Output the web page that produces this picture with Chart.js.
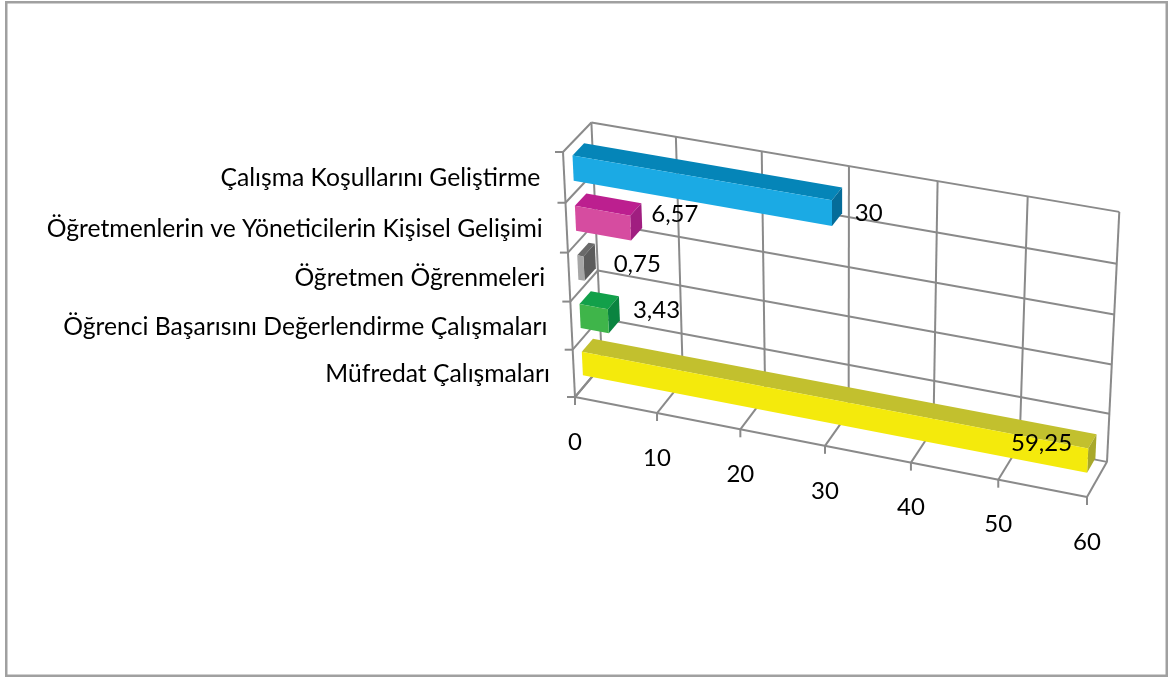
<!DOCTYPE html>
<html>
<head>
<meta charset="utf-8">
<style>
    html, body { margin: 0; padding: 0; background: #fff; }
    canvas { display: block; }
</style>
<script src="https://cdn.jsdelivr.net/npm/chart.js@4"></script>
</head>
<body>
<canvas id="myChart" width="1168" height="677"></canvas>
<script>
// Data for the chart (top to bottom)
const categories = [
    'Çalışma Koşullarını Geliştirme',
    'Öğretmenlerin ve Yöneticilerin Kişisel Gelişimi',
    'Öğretmen Öğrenmeleri',
    'Öğrenci Başarısını Değerlendirme Çalışmaları',
    'Müfredat Çalışmaları'
];
const values = [30, 6.57, 0.75, 3.43, 59.25];
const valueTicks = [0, 10, 20, 30, 40, 50, 60];

// Bar face colours
const frontColors = ['#1baae4', '#d64ca0', '#a6a6a6', '#3fb54a', '#f4ea0c'];
const topColors = ['#0585b8', '#bc1f8f', '#6a6a6a', '#12a04a', '#c2c02e'];
const sideColors = ['#056c99', '#a01e80', '#5c5c5c', '#0a8440', '#a8a82a'];

// Data labels were moved by hand in the original, offsets from the bar end
const labelNudge = [[32, 6], [39, -8], [48, 1], [43, -5], [-50, -11]];

const FONT = '24px Lato';
const CATEGORY_FONT = '24.7px Lato';
const GRID = '#8a8a8a';

// The 3D box: where the corners of the plot end up on screen
const O = { x: 575, y: 397 };   // value 0, bottom, front
const PU = { x: 1087, y: 497 }; // value max, bottom, front
const PV = { x: 563, y: 152 };  // value 0, top, front
const PW = { x: 602, y: 365 };  // value 0, bottom, back
const AU = 0.954, AV = 0.957, AW = 1.0157; // perspective weights
const BAR_FRONT = 0.31, BAR_BACK = 0.72;   // bar position in the depth of the box

// u = along values, v = bottom to top, w = front to back, all 0..1
function project(u, v, w) {
    const d = 1 + u * (AU - 1) + v * (AV - 1) + w * (AW - 1);
    return {
        x: (O.x + u * (AU * PU.x - O.x) + v * (AV * PV.x - O.x) + w * (AW * PW.x - O.x)) / d,
        y: (O.y + u * (AU * PU.y - O.y) + v * (AV * PV.y - O.y) + w * (AW * PW.y - O.y)) / d
    };
}

function toU(chart, px) {
    const a = chart.chartArea;
    return (px - a.left) / (a.right - a.left);
}

function toV(chart, py) {
    const a = chart.chartArea;
    return 1 - (py - a.top) / (a.bottom - a.top);
}

function line(ctx, a, b) {
    ctx.beginPath();
    ctx.moveTo(a.x, a.y);
    ctx.lineTo(b.x, b.y);
    ctx.stroke();
}

function face(ctx, points, color) {
    ctx.fillStyle = color;
    ctx.beginPath();
    points.forEach((p, i) => i ? ctx.lineTo(p.x, p.y) : ctx.moveTo(p.x, p.y));
    ctx.closePath();
    ctx.fill();
}

const box3d = {
    id: 'box3d',
    // Walls, floor, ticks and axis labels, all positioned from the chart's scales
    beforeDatasetsDraw(chart) {
        const ctx = chart.ctx;
        const x = chart.scales.x;
        const y = chart.scales.y;
        ctx.save();

        // outer frame
        ctx.strokeStyle = '#a0a0a0';
        ctx.lineWidth = 2.5;
        ctx.strokeRect(6.25, 2.25, 1160.5, 673.5);

        ctx.strokeStyle = GRID;
        ctx.lineWidth = 2;

        valueTicks.forEach(t => {
            const u = toU(chart, x.getPixelForValue(t));
            line(ctx, project(u, 0, 1), project(u, 1, 1));
            line(ctx, project(u, 0, 0), project(u, 0, 1));
            const p = project(u, 0, 0);
            line(ctx, p, { x: p.x, y: p.y + 8 });
        });

        // category boundaries
        const boundaries = [];
        categories.forEach((c, i) => {
            boundaries.push(toV(chart, y.getPixelForValue(i) - y.height / categories.length / 2));
        });
        boundaries.push(0);
        boundaries.forEach(v => {
            line(ctx, project(0, v, 0), project(0, v, 1));
            line(ctx, project(0, v, 1), project(1, v, 1));
            const p = project(0, v, 0);
            line(ctx, p, { x: p.x - 8, y: p.y });
        });
        line(ctx, project(0, 0, 0), project(1, 0, 0));
        line(ctx, project(0, 0, 0), project(0, 1, 0));

        ctx.fillStyle = '#000';
        ctx.font = FONT;
        ctx.textBaseline = 'middle';

        ctx.textAlign = 'center';
        valueTicks.forEach(t => {
            const p = project(toU(chart, x.getPixelForValue(t)), 0, 0);
            ctx.fillText(String(t), p.x, p.y + 45);
        });

        ctx.font = CATEGORY_FONT;
        ctx.textAlign = 'right';
        categories.forEach((c, i) => {
            const p = project(0, toV(chart, y.getPixelForValue(i)), 0);
            ctx.fillText(c, p.x - 24, p.y + 1);
        });
        ctx.restore();
    },
    // Replace the flat bars with three faces each
    beforeDatasetDraw(chart, args) {
        const ctx = chart.ctx;
        args.meta.data.forEach((bar, i) => {
            const u0 = toU(chart, bar.base);
            const u1 = toU(chart, bar.x);
            const vTop = toV(chart, bar.y - bar.height / 2);
            const vBottom = toV(chart, bar.y + bar.height / 2);
            face(ctx, [project(u0, vTop, BAR_FRONT), project(u1, vTop, BAR_FRONT),
                project(u1, vTop, BAR_BACK), project(u0, vTop, BAR_BACK)], topColors[i]);
            face(ctx, [project(u1, vTop, BAR_FRONT), project(u1, vBottom, BAR_FRONT),
                project(u1, vBottom, BAR_BACK), project(u1, vTop, BAR_BACK)], sideColors[i]);
            face(ctx, [project(u0, vTop, BAR_FRONT), project(u1, vTop, BAR_FRONT),
                project(u1, vBottom, BAR_FRONT), project(u0, vBottom, BAR_FRONT)], frontColors[i]);
        });
        return false;
    },
    // Data labels on top of everything
    afterDatasetsDraw(chart) {
        const ctx = chart.ctx;
        ctx.save();
        ctx.fillStyle = '#000';
        ctx.font = FONT;
        ctx.textAlign = 'center';
        ctx.textBaseline = 'middle';
        chart.getDatasetMeta(0).data.forEach((bar, i) => {
            const p = project(toU(chart, bar.x), toV(chart, bar.y), 0.5);
            ctx.fillText(String(values[i]).replace('.', ','), p.x + labelNudge[i][0], p.y + labelNudge[i][1]);
        });
        ctx.restore();
    }
};

// Function to initialize the chart
function createChart() {
    const ctx = document.getElementById('myChart').getContext('2d');
    new Chart(ctx, {
        type: 'bar',
        data: {
            labels: categories,
            datasets: [{
                data: values,
                backgroundColor: frontColors,
                categoryPercentage: 1,
                barPercentage: 0.5
            }]
        },
        options: {
            indexAxis: 'y',
            responsive: false,
            animation: false,
            plugins: {
                legend: { display: false },
                tooltip: { enabled: false }
            },
            scales: {
                x: { display: false, min: 0, max: 60 },
                y: { display: false }
            }
        },
        plugins: [box3d]
    });
}

document.fonts.load(CATEGORY_FONT).then(createChart, createChart);
</script>
</body>
</html>
